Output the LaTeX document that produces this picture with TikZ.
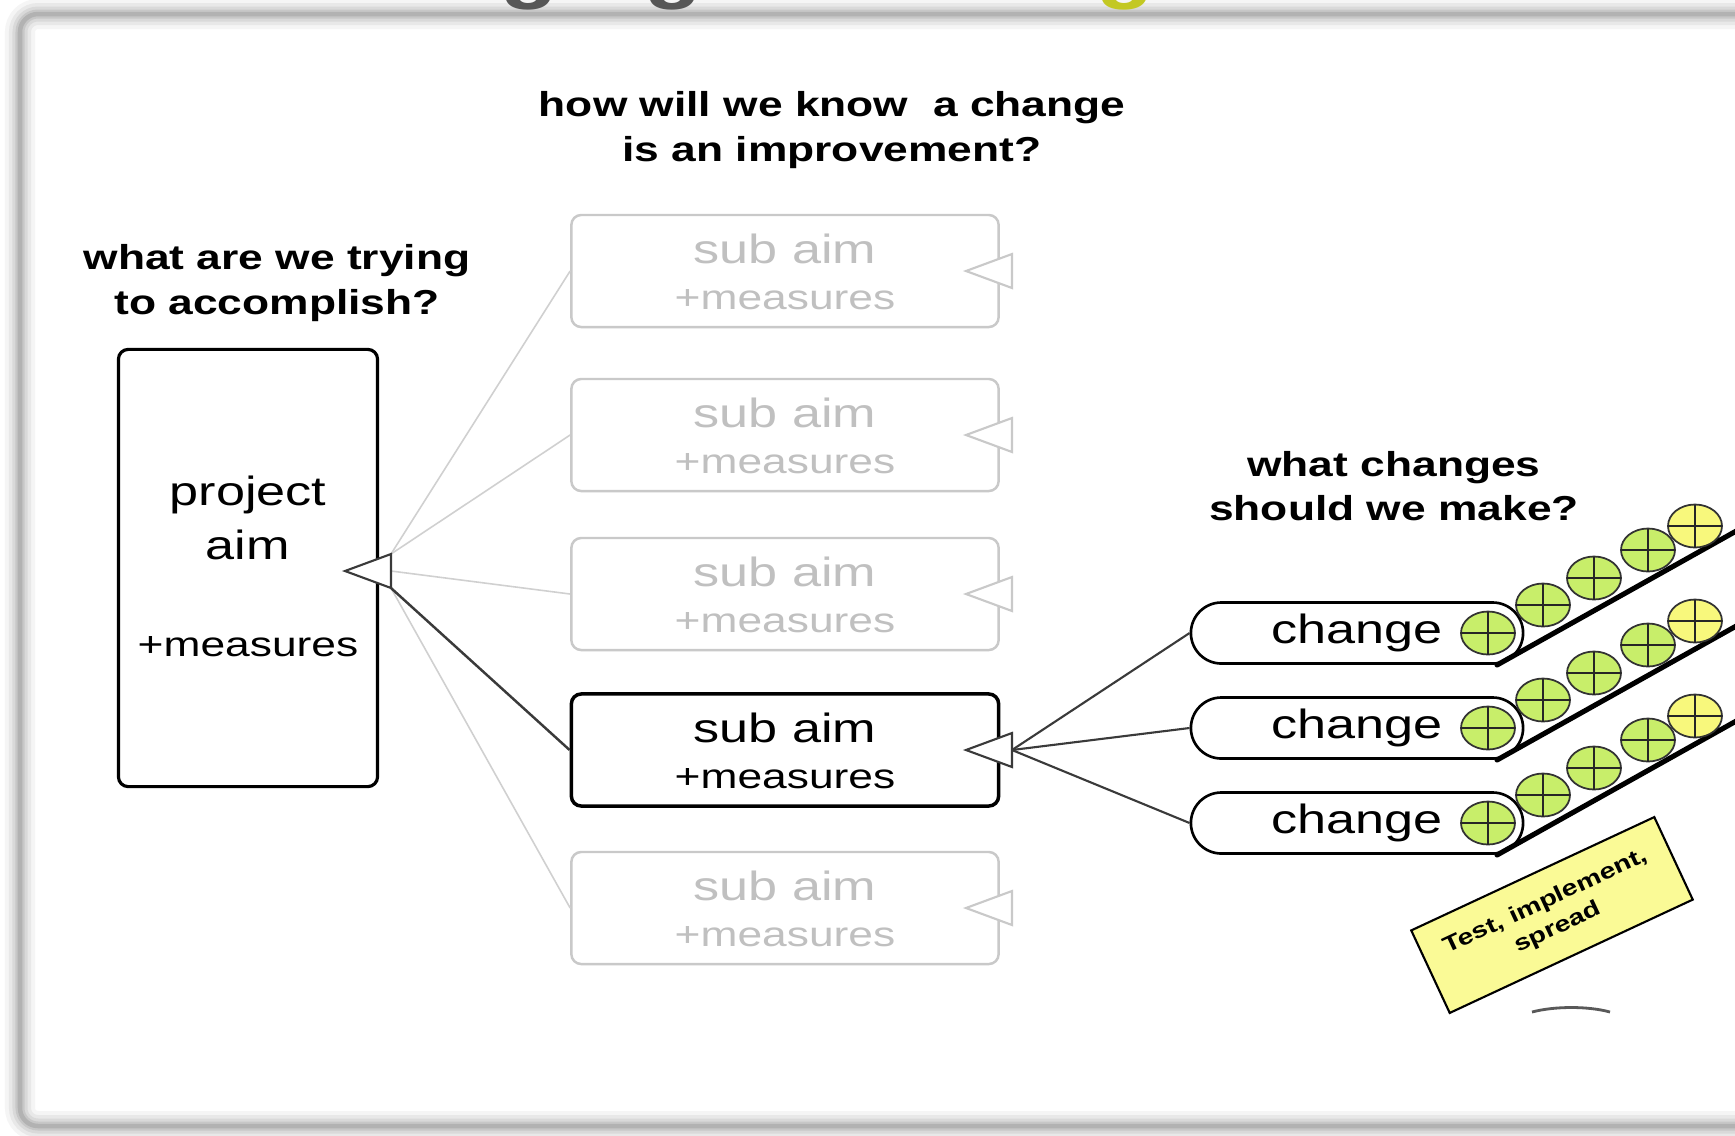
\documentclass[tikz,border=0pt]{standalone}
\usepackage{fontspec}
\newfontfamily\dfont[FakeStretch=1.28]{Liberation Sans}
\usetikzlibrary{shapes.misc,calc}
\definecolor{lightbox}{HTML}{C9C9C9}
\definecolor{lighttext}{HTML}{C0C0C0}
\definecolor{lightline}{HTML}{D0D0D0}
\definecolor{darkline}{HTML}{3A3A3A}
\definecolor{ballgreen}{HTML}{C8EE6A}
\definecolor{ballyellow}{HTML}{F8F87C}
\definecolor{labelyellow}{HTML}{FAFA96}
\definecolor{titlegrey}{HTML}{575757}
\definecolor{titlegreen}{HTML}{C3C823}
\tikzset{
  question/.style={font=\dfont\bfseries\fontsize{9.85pt}{12.7pt}\selectfont, align=center, inner sep=0pt},
  bigtext/.style={font=\dfont\fontsize{11.6pt}{13pt}\selectfont, inner sep=0pt},
  smalltext/.style={font=\dfont\fontsize{9.85pt}{12pt}\selectfont, inner sep=0pt},
  aimbox/.style={draw=black, line width=0.9pt, rounded corners=2.8pt, minimum width=2.59cm, minimum height=4.37cm, inner sep=0pt},
  subbox/.style={draw=lightbox, line width=0.7pt, rounded corners=2.8pt, minimum width=4.27cm, minimum height=1.12cm, inner sep=0pt},
  subboxdark/.style={subbox, draw=black, line width=1pt},
  lightconn/.style={draw=lightline, line width=0.45pt},
  darkconn/.style={draw=darkline, line width=0.7pt},
  pillconn/.style={draw=darkline, line width=0.6pt},
  lighttri/.style={draw=lightbox, line width=0.6pt, fill=white, line join=miter},
  darktri/.style={draw=darkline, line width=0.6pt, fill=white, line join=miter},
  pill/.style={rounded rectangle, draw=black, line width=0.75pt, minimum width=3.32cm, minimum height=0.61cm, inner sep=0pt, font=\dfont\fontsize{11.6pt}{13pt}\selectfont},
  slopeline/.style={draw=black, line width=1.45pt, line cap=round},
  ballline/.style={draw=black!80, line width=0.5pt},
  crossline/.style={draw=black!85, line width=0.6pt},
  labelbox/.style={draw=black, line width=0.6pt, fill=labelyellow, rotate=25, minimum width=2.68cm, minimum height=0.91cm, inner sep=0pt, align=center, font=\dfont\bfseries\fontsize{6.3pt}{8.2pt}\selectfont},
  titleg/.style={anchor=base, inner sep=0pt, font=\dfont\bfseries\fontsize{21pt}{21pt}\selectfont}
}
\newcommand\porttri[3]{\draw[#3] (#1,#2) -- (#1+46,#2-17) -- (#1+46,#2+17) -- cycle;}
\newcommand\drawball[3]{%
  \draw[ballline, fill=#3] (#1,#2) ellipse [x radius=27, y radius=21.5];
  \draw[crossline] (#1-27,#2) -- (#1+27,#2) (#1,#2-21.5) -- (#1,#2+21.5);}
\begin{document}
\begin{tikzpicture}[x=0.01cm, y=-0.01cm]
\useasboundingbox (0,0) rectangle (1735,1135);
\clip (0,0) rectangle (1735,1135);
% frame with soft shadow
\fill[white] (0,0) rectangle (1735,1135);
\foreach \w/\c in {30/4,22/9,15/15,9/22,4.5/30}
  \draw[line width=\w*0.2845pt, black!\c, rounded corners=0.18cm] (20,14) rectangle (1765,1126);
% cut-off title descenders
\node[titleg, text=titlegrey] (tg1) at (529,-6) {g};
\node[titleg, text=titlegrey] (tg2) at (673,-6) {g};
\node[titleg, text=titlegreen] (tg3) at (1125,-6) {g};
% questions
\node[question] (q1) at (277,283) {what are we trying\\to accomplish?};
\node[question] (q2) at (832,130) {how will we know\ \ a change\\is an improvement?};
\node[question] (q3) at (1394,486) {what changes\\should we make?};
% project aim
\node[aimbox] (pa) at (248,568) {};
\node[bigtext] (pa1) at (248,495) {project};
\node[bigtext] (pa2) at (248,545) {aim};
\node[smalltext] (pa3) at (248,647) {+measures};
% sub aims
\foreach \n/\yy in {1/271,2/435,3/594,5/908}{
  \node[subbox] (sa\n) at (785,\yy) {};
  \node[bigtext, text=lighttext] (sa\n a) at ($(sa\n.center)+(0,-22)$) {sub aim};
  \node[smalltext, text=lighttext] (sa\n b) at ($(sa\n.center)+(0,29)$) {+measures};
}
\node[subboxdark] (sa4) at (785,750) {};
\node[bigtext] (sa4a) at ($(sa4.center)+(0,-22)$) {sub aim};
\node[smalltext] (sa4b) at ($(sa4.center)+(0,29)$) {+measures};
% connectors project -> sub aims
\coordinate (paT) at (391,554);
\coordinate (paM) at (391,571);
\coordinate (paB) at (391,588);
\draw[lightconn] (paT) -- (sa1.west);
\draw[lightconn] (paT) -- (sa2.west);
\draw[lightconn] (paM) -- (sa3.west);
\draw[lightconn] (paB) -- (sa5.west);
\draw[darkconn] (paB) -- (sa4.west);
% triangles
\porttri{345}{571}{darktri}
\porttri{966}{271}{lighttri}
\porttri{966}{435}{lighttri}
\porttri{966}{594}{lighttri}
\porttri{966}{908}{lighttri}
% changes
\node[pill] (ch1) at (1357,633) {change};
\node[pill] (ch2) at (1357,728) {change};
\node[pill] (ch3) at (1357,823) {change};
\coordinate (sdport) at (1012,750);
\draw[pillconn] (sdport) -- (ch1.west);
\draw[pillconn] (sdport) -- (ch2.west);
\draw[pillconn] (sdport) -- (ch3.west);
\porttri{966}{750}{darktri}
% ramps with balls
\foreach \r in {0,1,2}{
  \pgfmathsetmacro\dy{95*\r}
  \draw[slopeline] (1497,665+\dy) -- (1760,517.7+\dy);
  \drawball{1488}{633+\dy}{ballgreen}
  \drawball{1543}{605+\dy}{ballgreen}
  \drawball{1594}{578+\dy}{ballgreen}
  \drawball{1648}{550+\dy}{ballgreen}
  \drawball{1695}{526+\dy}{ballyellow}
}
% label
\node[labelbox] (tis) at (1552,915) {Test, implement,\\spread};
\draw[black!65, line width=0.8pt] (1532,1012) .. controls (1555,1006) and (1588,1006) .. (1610,1012);
\end{tikzpicture}
\end{document}
